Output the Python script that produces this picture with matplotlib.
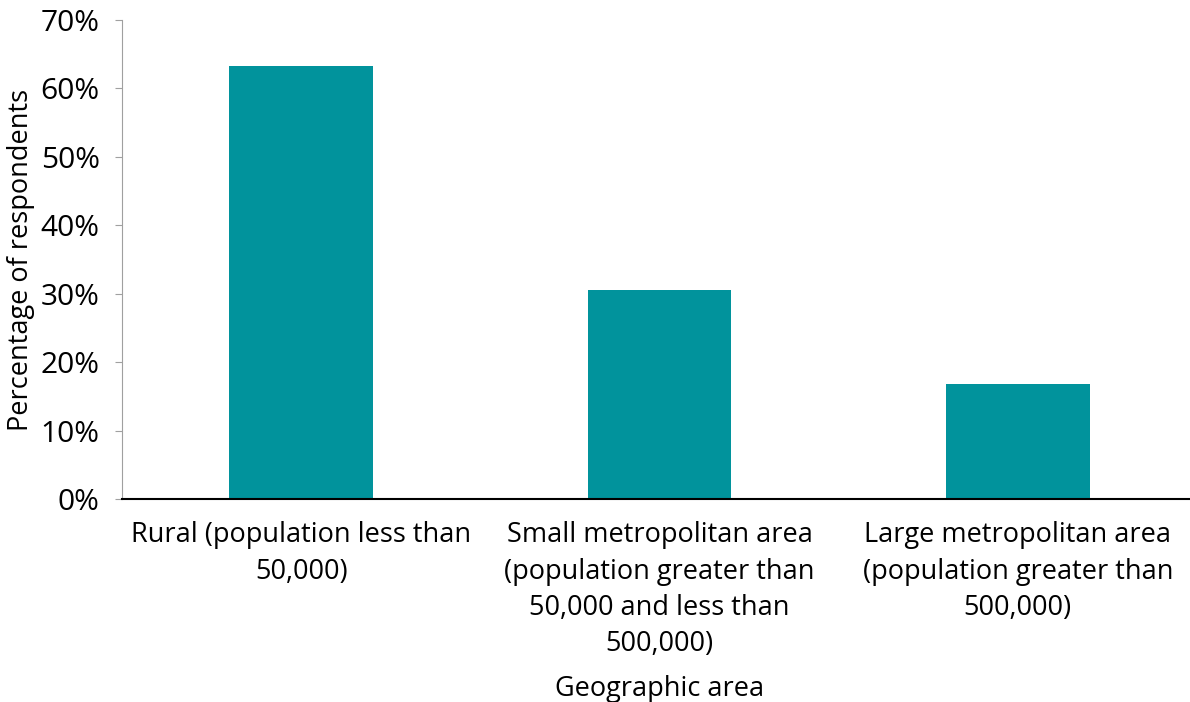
import matplotlib.pyplot as plt
from matplotlib.ticker import PercentFormatter

categories = [
    "Rural (population less than\n50,000)",
    "Small metropolitan area\n(population greater than\n50,000 and less than\n500,000)",
    "Large metropolitan area\n(population greater than\n500,000)",
]
values = [63.3, 30.6, 16.8]

plt.rcParams['font.family'] = ['Open Sans', 'DejaVu Sans']

fig = plt.figure(figsize=(11.9, 7.02), dpi=100)
ax = fig.add_axes([122 / 1190, 1 - 499 / 702, 1075 / 1190, 479 / 702])

ax.bar(range(len(values)), values, width=0.4, color='#01939c')
ax.set_xlim(-0.5, 2.5)
ax.set_ylim(0, 70)
ax.set_yticks(range(0, 71, 10))
ax.yaxis.set_major_formatter(PercentFormatter(decimals=0))
ax.set_xticks(range(len(values)))
ax.set_xticklabels(categories, fontsize=19.5, linespacing=1.4, va='top')

ax.spines['top'].set_visible(False)
ax.spines['right'].set_visible(False)
ax.spines['left'].set_color('#a0a0a0')
ax.spines['bottom'].set_color('black')
ax.spines['bottom'].set_linewidth(1.5)
ax.tick_params(axis='x', length=0, pad=16)
ax.tick_params(axis='y', labelsize=21.5, length=5, color='#a0a0a0', pad=11)

ax.set_ylabel('Percentage of respondents', fontsize=19.5, labelpad=4)
ax.set_xlabel('Geographic area', fontsize=19.5, labelpad=12)

plt.savefig('out.png')
